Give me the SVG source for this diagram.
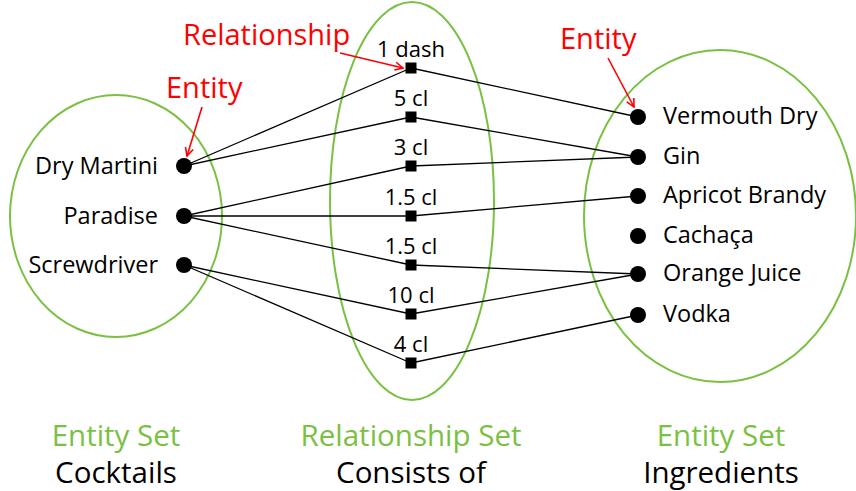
<svg xmlns="http://www.w3.org/2000/svg" width="856" height="491" viewBox="0 0 856 491">
  <style>
    text { font-family: "Open Sans", "Liberation Sans", sans-serif; }
    .set { fill: none; stroke: #7ac143; stroke-width: 2; }
    .dot { fill: #000; }
    .sq { fill: #000; }
    .lbl { font-size: 23.5px; fill: #000; }
    .val { font-size: 22px; fill: #000; text-anchor: middle; }
    .note { font-size: 29px; fill: #ff0000; }
    .ann { stroke: #ff0000; stroke-width: 1.6; fill: none; }
    .cap1 { font-size: 29.5px; fill: #7ac143; text-anchor: middle; }
    .cap2 { font-size: 29.5px; fill: #000; text-anchor: middle; }
    .link { stroke: #000; stroke-width: 1.3; fill: none; }
  </style>
  <defs>
    <marker id="vhead" markerWidth="10" markerHeight="10" refX="9" refY="5" orient="auto" markerUnits="userSpaceOnUse">
      <path d="M1,1 L9,5 L1,9" fill="none" stroke="#ff0000" stroke-width="1.6"/>
    </marker>
  </defs>

  <!-- set outlines -->
  <ellipse class="set" cx="116" cy="216" rx="106" ry="121"/>
  <ellipse class="set" cx="412" cy="201" rx="82" ry="199"/>
  <ellipse class="set" cx="720" cy="216" rx="136" ry="166"/>

  <!-- connectors -->
  <g id="connectors">
    <line class="link" x1="184" y1="166" x2="411" y2="68"/>
    <line class="link" x1="184" y1="166" x2="411" y2="117"/>
    <line class="link" x1="184" y1="216" x2="411" y2="166"/>
    <line class="link" x1="184" y1="216" x2="411" y2="216"/>
    <line class="link" x1="184" y1="216" x2="411" y2="265"/>
    <line class="link" x1="184" y1="265" x2="411" y2="314"/>
    <line class="link" x1="184" y1="265" x2="411" y2="363"/>
    <line class="link" x1="411" y1="68" x2="638" y2="117"/>
    <line class="link" x1="411" y1="117" x2="638" y2="157"/>
    <line class="link" x1="411" y1="166" x2="638" y2="157"/>
    <line class="link" x1="411" y1="216" x2="638" y2="196"/>
    <line class="link" x1="411" y1="265" x2="638" y2="274"/>
    <line class="link" x1="411" y1="314" x2="638" y2="274"/>
    <line class="link" x1="411" y1="363" x2="638" y2="315"/>
  </g>

  <!-- cocktails -->
  <g id="dry-martini"><circle class="dot" cx="184" cy="166" r="8"/><text class="lbl" x="158" y="174" text-anchor="end">Dry Martini</text></g>
  <g id="paradise"><circle class="dot" cx="184" cy="216" r="8"/><text class="lbl" x="158" y="224" text-anchor="end">Paradise</text></g>
  <g id="screwdriver"><circle class="dot" cx="184" cy="265" r="8"/><text class="lbl" x="158" y="273" text-anchor="end">Screwdriver</text></g>

  <!-- amounts -->
  <g id="r-1dash"><rect class="sq" x="405.5" y="62.5" width="11" height="11"/><text class="val" x="411" y="57">1 dash</text></g>
  <g id="r-5cl"><rect class="sq" x="405.5" y="111.5" width="11" height="11"/><text class="val" x="411" y="106">5 cl</text></g>
  <g id="r-3cl"><rect class="sq" x="405.5" y="160.5" width="11" height="11"/><text class="val" x="411" y="155">3 cl</text></g>
  <g id="r-1-5cl-a"><rect class="sq" x="405.5" y="210.5" width="11" height="11"/><text class="val" x="411" y="205">1.5 cl</text></g>
  <g id="r-1-5cl-b"><rect class="sq" x="405.5" y="259.5" width="11" height="11"/><text class="val" x="411" y="254">1.5 cl</text></g>
  <g id="r-10cl"><rect class="sq" x="405.5" y="308.5" width="11" height="11"/><text class="val" x="411" y="303">10 cl</text></g>
  <g id="r-4cl"><rect class="sq" x="405.5" y="357.5" width="11" height="11"/><text class="val" x="411" y="352">4 cl</text></g>

  <!-- ingredients -->
  <g id="vermouth-dry"><circle class="dot" cx="638" cy="117" r="8"/><text class="lbl" x="663" y="124">Vermouth Dry</text></g>
  <g id="gin"><circle class="dot" cx="638" cy="157" r="8"/><text class="lbl" x="663" y="164">Gin</text></g>
  <g id="apricot-brandy"><circle class="dot" cx="638" cy="196" r="8"/><text class="lbl" x="663" y="203">Apricot Brandy</text></g>
  <g id="cachaca"><circle class="dot" cx="638" cy="236" r="8"/><text class="lbl" x="663" y="243">Cachaça</text></g>
  <g id="orange-juice"><circle class="dot" cx="638" cy="274" r="8"/><text class="lbl" x="663" y="281">Orange Juice</text></g>
  <g id="vodka"><circle class="dot" cx="638" cy="315" r="8"/><text class="lbl" x="663" y="322">Vodka</text></g>

  <!-- annotations -->
  <g id="note-relationship">
    <text class="note" x="183" y="45">Relationship</text>
    <line class="ann" x1="340" y1="53" x2="403" y2="68" marker-end="url(#vhead)"/>
  </g>
  <g id="note-entity-left">
    <text class="note" x="166" y="98">Entity</text>
    <line class="ann" x1="202" y1="107" x2="187" y2="156" marker-end="url(#vhead)"/>
  </g>
  <g id="note-entity-right">
    <text class="note" x="560" y="49">Entity</text>
    <line class="ann" x1="608" y1="58" x2="634" y2="107" marker-end="url(#vhead)"/>
  </g>

  <!-- set captions -->
  <g id="caption-cocktails">
    <text class="cap1" x="116" y="446">Entity Set</text>
    <text class="cap2" x="116" y="483">Cocktails</text>
  </g>
  <g id="caption-consists">
    <text class="cap1" x="411" y="446">Relationship Set</text>
    <text class="cap2" x="411" y="483">Consists of</text>
  </g>
  <g id="caption-ingredients">
    <text class="cap1" x="721" y="446">Entity Set</text>
    <text class="cap2" x="721" y="483">Ingredients</text>
  </g>
</svg>
